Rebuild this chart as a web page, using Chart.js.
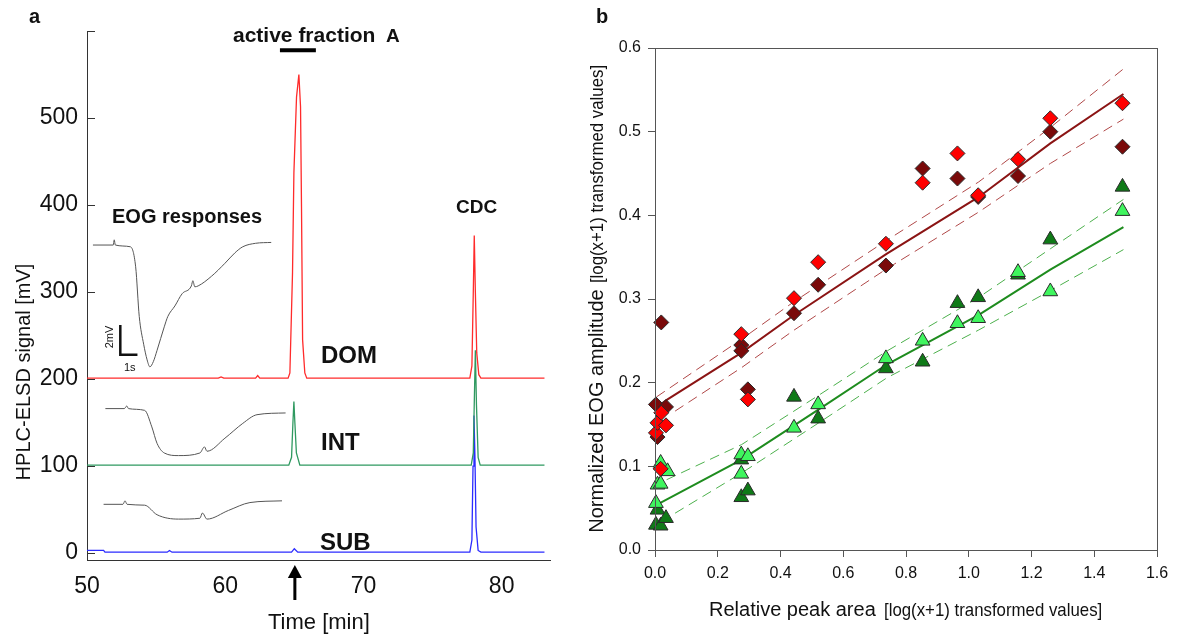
<!DOCTYPE html>
<html>
<head>
<meta charset="utf-8">
<script src="https://cdn.jsdelivr.net/npm/chart.js@4.4.1/dist/chart.umd.min.js"></script>
<style>
  body { margin: 0; background: #fff; }
  #wrap { position: relative; width: 1179px; height: 635px; overflow: hidden; }
  canvas { position: absolute; top: 0; }
  .lbl { position: absolute; white-space: nowrap; line-height: 1; color: #111; font-family: 'Liberation Sans', Arial, sans-serif; }
  .b { font-weight: bold; }
  .rot { transform: translate(-50%, -50%) rotate(-90deg); }
  .rotn { transform: translate(-50%, -50%) rotate(-90deg) scaleX(0.885); }
  .squeeze { transform: scaleX(0.885); transform-origin: 0 50%; }
</style>
</head>
<body>
<div id="wrap">
  <canvas id="chartA" width="575" height="635" style="left:0"></canvas>
  <canvas id="chartB" width="604" height="635" style="left:575px"></canvas>

  <!-- panel a labels -->
  <div class="lbl b" style="left:29px;top:6px;font-size:20px">a</div>
  <div class="lbl b" style="left:233px;top:24px;font-size:21px">active fraction</div>
  <div class="lbl b" style="left:386px;top:26px;font-size:19px">A</div>
  <div class="lbl b" style="left:112px;top:206px;font-size:20px">EOG responses</div>
  <div class="lbl b" style="left:456px;top:197px;font-size:19px">CDC</div>
  <div class="lbl b" style="left:321px;top:343px;font-size:24px">DOM</div>
  <div class="lbl b" style="left:321px;top:430px;font-size:24px">INT</div>
  <div class="lbl b" style="left:320px;top:530px;font-size:24px">SUB</div>
  <div class="lbl" style="left:268px;top:611px;font-size:22px">Time [min]</div>
  <div class="lbl rot" style="left:23px;top:372px;font-size:20px">HPLC-ELSD signal [mV]</div>
  <div class="lbl rot" style="left:109px;top:337px;font-size:11px">2mV</div>
  <div class="lbl" style="left:124px;top:362px;font-size:11px">1s</div>

  <!-- panel b labels -->
  <div class="lbl b" style="left:596px;top:6px;font-size:20px">b</div>
  <div class="lbl" style="left:709px;top:599px;font-size:20px">Relative peak area</div>
  <div class="lbl squeeze" style="left:884px;top:600px;font-size:19px">[log(x+1) transformed values]</div>
  <div class="lbl rot" style="left:596px;top:411px;font-size:20px">Normalized EOG amplitude</div>
  <div class="lbl rotn" style="left:596px;top:174px;font-size:19px">[log(x+1) transformed values]</div>
</div>

<script>
// ---- panel a : chromatograms (time in min, signal in mV) ----
const xTicksA = [50, 60, 70, 80];
const yTicksA = [0, 100, 200, 300, 400, 500, 600];

const domX = [50, 59.5, 59.7, 59.9, 62.2, 62.35, 62.5, 64.55, 64.68, 64.87, 64.97, 65.16, 65.33, 65.45, 65.52, 65.6, 65.76, 65.9, 77.7, 77.85, 77.95, 78.02, 78.1, 78.2, 78.35, 78.5, 83.1];
const domY = [201, 201, 202.5, 201, 201, 204, 201, 201, 207, 322, 437, 524, 550, 513, 398, 245, 207, 201, 201, 215, 300, 365, 300, 230, 205, 201, 201];

const intX = [50, 64.6, 64.8, 64.9, 64.97, 65.04, 65.15, 65.4, 77.8, 77.95, 78.03, 78.1, 78.18, 78.3, 78.45, 83.1];
const intY = [101, 101, 110, 150, 174, 150, 115, 101, 101, 115, 180, 233, 170, 110, 101, 101];

const subX = [50, 51.2, 51.3, 55.8, 55.97, 56.15, 64.8, 65.0, 65.25, 77.7, 77.85, 77.93, 78.0, 78.07, 78.15, 78.3, 78.5, 83.1];
const subY = [3, 3, 1, 1, 3, 1, 1, 5, 1, 1, 15, 100, 158, 110, 30, 3, 1, 1];

// EOG response insets, drawn in the same axes
const eog1X = [50.43, 51.9, 51.97, 52.05, 53.14, 53.52, 53.78, 54.1, 54.35, 54.55, 54.8, 55.07, 55.59, 55.85, 56.36, 56.88, 57.55, 57.66, 57.8, 58.04, 59.0, 59.98, 60.7, 61.27, 62.2, 63.33];
const eog1Y = [354, 354, 360, 354, 352, 329, 272, 240, 222, 214, 220, 233, 260, 272, 284, 298, 307, 313, 306, 307, 318, 333, 345, 352, 356, 357];
const eog2X = [51.33, 52.7, 52.88, 53.0, 54.17, 54.69, 55.07, 55.59, 56.62, 58.17, 58.5, 58.68, 59.98, 61.27, 62.3, 64.37];
const eog2Y = [166, 166, 169, 166, 164, 145, 126, 115, 112, 115, 122, 117, 132, 149, 159, 161];
const eog3X = [51.2, 52.6, 52.75, 52.9, 54.17, 55.07, 56.62, 58.17, 58.35, 58.68, 60.24, 61.79, 64.11];
const eog3Y = [56, 56, 60, 56, 55, 44, 39, 40, 46, 39, 49, 58, 60];

const scaleBarX = [52.41, 52.41, 53.65];
const scaleBarY = [262, 228, 228];
const fractionX = [63.96, 66.56];
const fractionY = [578, 578];
const arrowAt = 65.04;

// ---- panel b : EOG amplitude vs relative peak area ----
const xTicksB = [0, 0.2, 0.4, 0.6, 0.8, 1.0, 1.2, 1.4, 1.6];
const yTicksB = [0, 0.1, 0.2, 0.3, 0.4, 0.5, 0.6];

const redX = [0.003, 0.008, 0.02, 0.035, 0.018, 0.275, 0.296, 0.443, 0.52, 0.736, 0.853, 0.964, 1.03, 1.157, 1.26, 1.49];
const redY = [0.140, 0.152, 0.164, 0.149, 0.097, 0.258, 0.180, 0.301, 0.344, 0.366, 0.439, 0.474, 0.424, 0.467, 0.516, 0.534];
const darkRedX = [0.003, 0.035, 0.008, 0.02, 0.275, 0.275, 0.296, 0.443, 0.52, 0.736, 0.853, 0.964, 1.03, 1.157, 1.26, 1.49];
const darkRedY = [0.174, 0.171, 0.135, 0.272, 0.245, 0.238, 0.192, 0.283, 0.317, 0.340, 0.456, 0.444, 0.422, 0.447, 0.500, 0.482];
const lightGreenX = [0.003, 0.008, 0.018, 0.018, 0.04, 0.275, 0.296, 0.275, 0.443, 0.52, 0.736, 0.853, 0.964, 1.03, 1.157, 1.26, 1.49];
const lightGreenY = [0.056, 0.078, 0.079, 0.104, 0.094, 0.114, 0.112, 0.091, 0.146, 0.174, 0.229, 0.250, 0.271, 0.277, 0.332, 0.309, 0.405];
const darkGreenX = [0.008, 0.003, 0.018, 0.035, 0.275, 0.275, 0.296, 0.443, 0.52, 0.736, 0.853, 0.964, 1.03, 1.157, 1.26, 1.49];
const darkGreenY = [0.048, 0.030, 0.029, 0.038, 0.108, 0.063, 0.071, 0.183, 0.157, 0.217, 0.225, 0.295, 0.302, 0.329, 0.371, 0.434];

const redFitX = [0.01, 0.04, 0.276, 0.44, 0.738, 1.032, 1.26, 1.493];
const redFitY = [0.172, 0.18, 0.236, 0.28, 0.354, 0.422, 0.486, 0.545];
const redUpX = [0.005, 0.276, 0.44, 0.738, 1.032, 1.26, 1.493];
const redUpY = [0.183, 0.252, 0.296, 0.37, 0.44, 0.505, 0.575];
const redLoX = [0.064, 0.276, 0.44, 0.738, 1.032, 1.26, 1.493];
const redLoY = [0.166, 0.218, 0.262, 0.336, 0.404, 0.462, 0.515];

const greenFitX = [0.005, 0.276, 0.522, 0.74, 1.032, 1.26, 1.493];
const greenFitY = [0.054, 0.108, 0.168, 0.222, 0.281, 0.335, 0.386];
const greenUpX = [0.037, 0.276, 0.522, 0.74, 1.032, 1.26, 1.493];
const greenUpY = [0.084, 0.126, 0.185, 0.238, 0.302, 0.36, 0.419];
const greenLoX = [0.064, 0.276, 0.522, 0.74, 1.032, 1.26, 1.493];
const greenLoY = [0.044, 0.092, 0.152, 0.206, 0.263, 0.31, 0.359];

const labelFont = "'Liberation Sans', Arial, sans-serif";
const pts = (xs, ys) => xs.map((x, i) => ({ x: x, y: ys[i] }));

function trace(xs, ys, color) {
  return { data: pts(xs, ys), borderColor: color, borderWidth: 1.3, pointRadius: 0 };
}
function eog(xs, ys) {
  return { data: pts(xs, ys), borderColor: '#555', borderWidth: 1, pointRadius: 0, cubicInterpolationMode: 'monotone' };
}

// inward y ticks and the arrow under the time axis
const axisMarksA = {
  id: 'axisMarksA',
  afterDraw(chart) {
    const ctx = chart.ctx, area = chart.chartArea;
    ctx.save();
    ctx.strokeStyle = '#333';
    ctx.lineWidth = 1;
    yTicksA.forEach(v => {
      const py = Math.round(chart.scales.y.getPixelForValue(v)) + 0.5;
      ctx.beginPath();
      ctx.moveTo(area.left, py);
      ctx.lineTo(area.left + 8, py);
      ctx.stroke();
    });
    const ax = chart.scales.x.getPixelForValue(arrowAt);
    const top = area.bottom + 5;
    ctx.fillStyle = '#000';
    ctx.fillRect(ax - 1.5, top + 10, 3, 25);
    ctx.beginPath();
    ctx.moveTo(ax, top);
    ctx.lineTo(ax - 7, top + 13);
    ctx.lineTo(ax + 7, top + 13);
    ctx.closePath();
    ctx.fill();
    ctx.restore();
  }
};

// closed frame round the plot area of panel b
const frameB = {
  id: 'frameB',
  afterDraw(chart) {
    const ctx = chart.ctx, a = chart.chartArea;
    ctx.save();
    ctx.strokeStyle = '#555';
    ctx.lineWidth = 1;
    ctx.strokeRect(Math.round(a.left) + 0.5, Math.round(a.top) + 0.5, Math.round(a.width), Math.round(a.height));
    ctx.restore();
  }
};

new Chart(document.getElementById('chartA'), {
  type: 'line',
  data: {
    datasets: [
      trace(domX, domY, '#ff2b2b'),
      trace(intX, intY, '#2f9960'),
      trace(subX, subY, '#2b2bff'),
      eog(eog1X, eog1Y),
      eog(eog2X, eog2Y),
      eog(eog3X, eog3Y),
      { data: pts(scaleBarX, scaleBarY), borderColor: '#111', borderWidth: 2.5, pointRadius: 0 },
      { data: pts(fractionX, fractionY), borderColor: '#000', borderWidth: 4, pointRadius: 0 }
    ]
  },
  options: {
    responsive: false,
    animation: false,
    devicePixelRatio: 1,
    layout: { padding: { left: 0, right: 25, top: 31, bottom: 0 } },
    plugins: { legend: { display: false }, tooltip: { enabled: false } },
    scales: {
      x: {
        type: 'linear', min: 50, max: 83.5,
        afterBuildTicks: s => { s.ticks = xTicksA.map(v => ({ value: v })); },
        afterFit: s => { s.height = 75; },
        grid: { display: false },
        border: { display: true, color: '#333', width: 1 },
        ticks: { font: { size: 23, family: labelFont }, color: '#111', padding: 5, maxRotation: 0 }
      },
      y: {
        type: 'linear', min: -8, max: 600,
        afterBuildTicks: s => { s.ticks = yTicksA.map(v => ({ value: v })); },
        afterFit: s => { s.width = 87; },
        grid: { display: false },
        border: { display: true, color: '#333', width: 1 },
        ticks: { font: { size: 23, family: labelFont }, color: '#111', padding: 1, callback: v => v === 600 ? '' : v }
      }
    }
  },
  plugins: [axisMarksA]
});

function marker(xs, ys, style, radius, color, order) {
  return { data: pts(xs, ys), pointStyle: style, pointRadius: radius, backgroundColor: color,
           borderColor: '#2a2a2a', borderWidth: 1, clip: false, order: order };
}
function fit(xs, ys, color, width, dash) {
  return { data: pts(xs, ys), showLine: true, pointRadius: 0, borderColor: color, borderWidth: width,
           borderDash: dash, order: 10 };
}

new Chart(document.getElementById('chartB'), {
  type: 'scatter',
  data: {
    datasets: [
      marker(redX, redY, 'rectRot', 7.5, '#ff0000', 1),
      marker(darkRedX, darkRedY, 'rectRot', 7.5, '#7a0a0a', 2),
      marker(lightGreenX, lightGreenY, 'triangle', 8.5, '#3ff55e', 3),
      marker(darkGreenX, darkGreenY, 'triangle', 8.5, '#0f7a17', 4),
      fit(redFitX, redFitY, '#8b1414', 2, []),
      fit(redUpX, redUpY, '#b04848', 1, [10, 6]),
      fit(redLoX, redLoY, '#b04848', 1, [10, 6]),
      fit(greenFitX, greenFitY, '#1e8c1e', 2, []),
      fit(greenUpX, greenUpY, '#4cb04c', 1, [10, 6]),
      fit(greenLoX, greenLoY, '#4cb04c', 1, [10, 6])
    ]
  },
  options: {
    responsive: false,
    animation: false,
    devicePixelRatio: 1,
    layout: { padding: { left: 0, right: 22, top: 48, bottom: 0 } },
    plugins: { legend: { display: false }, tooltip: { enabled: false } },
    scales: {
      x: {
        type: 'linear', min: 0, max: 1.6,
        afterBuildTicks: s => { s.ticks = xTicksB.map(v => ({ value: v })); },
        afterFit: s => { s.height = 85; },
        grid: { drawOnChartArea: false, drawTicks: true, tickLength: 7, color: '#555' },
        border: { display: true, color: '#555', width: 1 },
        ticks: { font: { size: 16, family: labelFont }, color: '#111', padding: 7, maxRotation: 0, callback: v => v.toFixed(1) }
      },
      y: {
        type: 'linear', min: 0, max: 0.6,
        afterBuildTicks: s => { s.ticks = yTicksB.map(v => ({ value: v })); },
        afterFit: s => { s.width = 80; },
        grid: { drawOnChartArea: false, drawTicks: true, tickLength: 7, color: '#555' },
        border: { display: true, color: '#555', width: 1 },
        ticks: { font: { size: 16, family: labelFont }, color: '#111', padding: 7, callback: v => v.toFixed(1) }
      }
    }
  },
  plugins: [frameB]
});
</script>
</body>
</html>
